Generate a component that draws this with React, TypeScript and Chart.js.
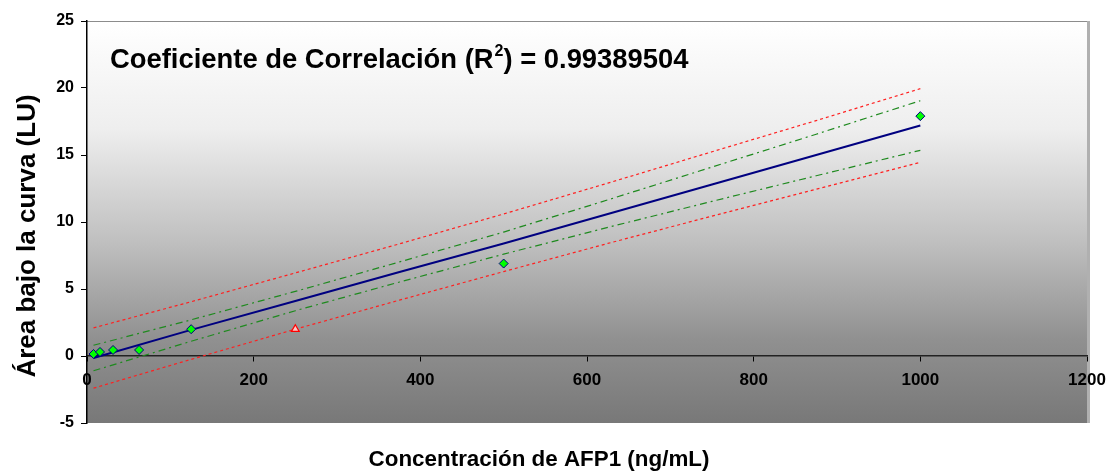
import { useEffect, useRef } from "react";
import { Chart, registerables } from "chart.js";

Chart.register(...registerables);

// Calibration standards (ng/mL) and measured area (LU)
const standardConc = [7.8, 15.6, 31.25, 62.5, 125, 500, 1000];
const standardArea = [0.15, 0.3, 0.45, 0.45, 2.0, 6.9, 17.9];
// Point flagged as outlier
const outlierConc = [250];
const outlierArea = [2.0];

// Regression line and bands
const bandConc = [7.8, 125, 250, 375, 500, 625, 750, 875, 1000];
const fitArea = [-0.15, 1.95, 4.1, 6.27, 8.4, 10.6, 12.8, 15.0, 17.2];
const confUpper = [0.8, 2.7, 4.82, 7.02, 9.25, 11.65, 14.1, 16.55, 19.05];
const confLower = [-1.1, 1.1, 3.38, 5.52, 7.6, 9.6, 11.54, 13.45, 15.35];
const predUpper = [2.1, 4.05, 6.2, 8.37, 10.6, 12.9, 15.24, 17.57, 19.95];
const predLower = [-2.4, -0.25, 2.0, 4.17, 6.3, 8.4, 10.44, 12.45, 14.45];

const xMin = 0, xMax = 1200, xStep = 200;
const yMin = -5, yMax = 25, yStep = 5;

const r2Label = "Coeficiente de Correlación (R";
const r2Sup = "2";
const r2Value = ") = 0.99389504";
const xTitle = "Concentración de AFP1 (ng/mL)";
const yTitle = "Área bajo la curva (LU)";

const FONT = "'Liberation Sans', Arial, sans-serif";

const pts = (xs: number[], ys: number[]) => xs.map((x, i) => ({ x, y: ys[i] }));

const bgPlugin = {
  id: "bgPlugin",
  beforeDraw(chart: any) {
    const { ctx, chartArea: a } = chart;
    ctx.save();
    const g = ctx.createLinearGradient(0, a.top, 0, a.bottom);
    g.addColorStop(0, "#ffffff");
    g.addColorStop(0.27, "#eeeeee");
    g.addColorStop(0.546, "#c0c0c0");
    g.addColorStop(0.794, "#909090");
    g.addColorStop(1, "#787878");
    ctx.fillStyle = g;
    ctx.fillRect(a.left, a.top, a.right - a.left, a.bottom - a.top);
    ctx.strokeStyle = "#8c8c8c";
    ctx.lineWidth = 1;
    ctx.beginPath();
    ctx.moveTo(a.left, a.top + 0.5);
    ctx.lineTo(a.right, a.top + 0.5);
    ctx.stroke();
    ctx.strokeStyle = "#b0b0b0";
    ctx.lineWidth = 3;
    ctx.beginPath();
    ctx.moveTo(a.right + 1.5, a.top);
    ctx.lineTo(a.right + 1.5, a.bottom);
    ctx.stroke();
    ctx.restore();
  },
};

const textPlugin = {
  id: "textPlugin",
  afterDraw(chart: any) {
    const { ctx } = chart;
    ctx.save();
    ctx.fillStyle = "#000";
    ctx.textBaseline = "alphabetic";
    // R^2 annotation
    ctx.font = `bold 27.4px ${FONT}`;
    ctx.textAlign = "left";
    let x = 110;
    const base = 68;
    ctx.fillText(r2Label, x, base);
    x += ctx.measureText(r2Label).width;
    ctx.font = `bold 16px ${FONT}`;
    ctx.fillText(r2Sup, x + 1, base - 12);
    x += ctx.measureText(r2Sup).width + 1;
    ctx.font = `bold 27.4px ${FONT}`;
    ctx.fillText(r2Value, x, base);
    // X title
    ctx.font = `bold 22.4px ${FONT}`;
    ctx.textAlign = "center";
    ctx.fillText(xTitle, 539, 466);
    // Y title
    ctx.translate(35, 236);
    ctx.rotate(-Math.PI / 2);
    ctx.font = `bold 26px ${FONT}`;
    ctx.fillText(yTitle, 0, 0);
    ctx.restore();
  },
};

export default function App() {
  const ref = useRef<HTMLCanvasElement>(null);
  useEffect(() => {
    if (!ref.current) return;
    const chart = new Chart(ref.current, {
      type: "scatter",
      data: {
        datasets: [
          {
            label: "Estándares",
            data: pts(standardConc, standardArea),
            pointStyle: "rectRot",
            pointRadius: 4.5,
            backgroundColor: "#00ff00",
            borderColor: "#000080",
            borderWidth: 1,
            showLine: false,
          },
          {
            label: "Atípico",
            data: pts(outlierConc, outlierArea),
            pointStyle: "triangle",
            pointRadius: 4.5,
            backgroundColor: "#ffc8c8",
            borderColor: "#ff0000",
            borderWidth: 1.2,
            showLine: false,
          },
          {
            label: "Ajuste",
            data: pts(bandConc, fitArea),
            showLine: true,
            borderColor: "#000080",
            borderWidth: 2,
            pointRadius: 0,
          },
          {
            label: "IC superior",
            data: pts(bandConc, confUpper),
            showLine: true,
            borderColor: "#1f8a1f",
            borderWidth: 1.2,
            borderDash: [7, 4, 2, 4],
            pointRadius: 0,
          },
          {
            label: "IC inferior",
            data: pts(bandConc, confLower),
            showLine: true,
            borderColor: "#1f8a1f",
            borderWidth: 1.2,
            borderDash: [7, 4, 2, 4],
            pointRadius: 0,
          },
          {
            label: "IP superior",
            data: pts(bandConc, predUpper),
            showLine: true,
            borderColor: "#ff2020",
            borderWidth: 1.2,
            borderDash: [3, 3],
            pointRadius: 0,
          },
          {
            label: "IP inferior",
            data: pts(bandConc, predLower),
            showLine: true,
            borderColor: "#ff2020",
            borderWidth: 1.2,
            borderDash: [3, 3],
            pointRadius: 0,
          },
        ],
      },
      options: {
        animation: false,
        responsive: false,
        devicePixelRatio: 1,
        layout: { padding: { left: 27, right: 22, top: 21, bottom: 53 } },
        plugins: { legend: { display: false }, tooltip: { enabled: false } },
        scales: {
          x: {
            type: "linear",
            position: { y: 0 } as any,
            min: xMin,
            max: xMax,
            afterFit: (s: any) => {
              s.paddingLeft = 0;
              s.paddingRight = 0;
            },
            ticks: {
              stepSize: xStep,
              color: "#000",
              font: { family: FONT, size: 17, weight: "bold" },
              padding: 9,
              maxRotation: 0,
              callback: (v: any) => String(v),
            },
            grid: { drawOnChartArea: false, drawTicks: true, tickLength: 5, color: "#000" },
            border: { display: true, color: "#222", width: 1.5 },
          },
          y: {
            type: "linear",
            position: "left",
            min: yMin,
            max: yMax,
            afterFit: (s: any) => {
              s.width = 60;
            },
            ticks: {
              stepSize: yStep,
              color: "#000",
              font: { family: FONT, size: 16, weight: "bold" },
              padding: 7,
              callback: (v: any) => String(v),
            },
            grid: { drawOnChartArea: false, drawTicks: true, tickLength: 6, color: "#000" },
            border: { display: true, color: "#000", width: 1.5 },
          },
        },
      },
      plugins: [bgPlugin, textPlugin],
    });
    return () => chart.destroy();
  }, []);
  return (
    <div style={{ position: "absolute", left: 0, top: 0, width: 1109, height: 476 }}>
      <canvas ref={ref} width={1109} height={476} style={{ width: 1109, height: 476 }} />
    </div>
  );
}
